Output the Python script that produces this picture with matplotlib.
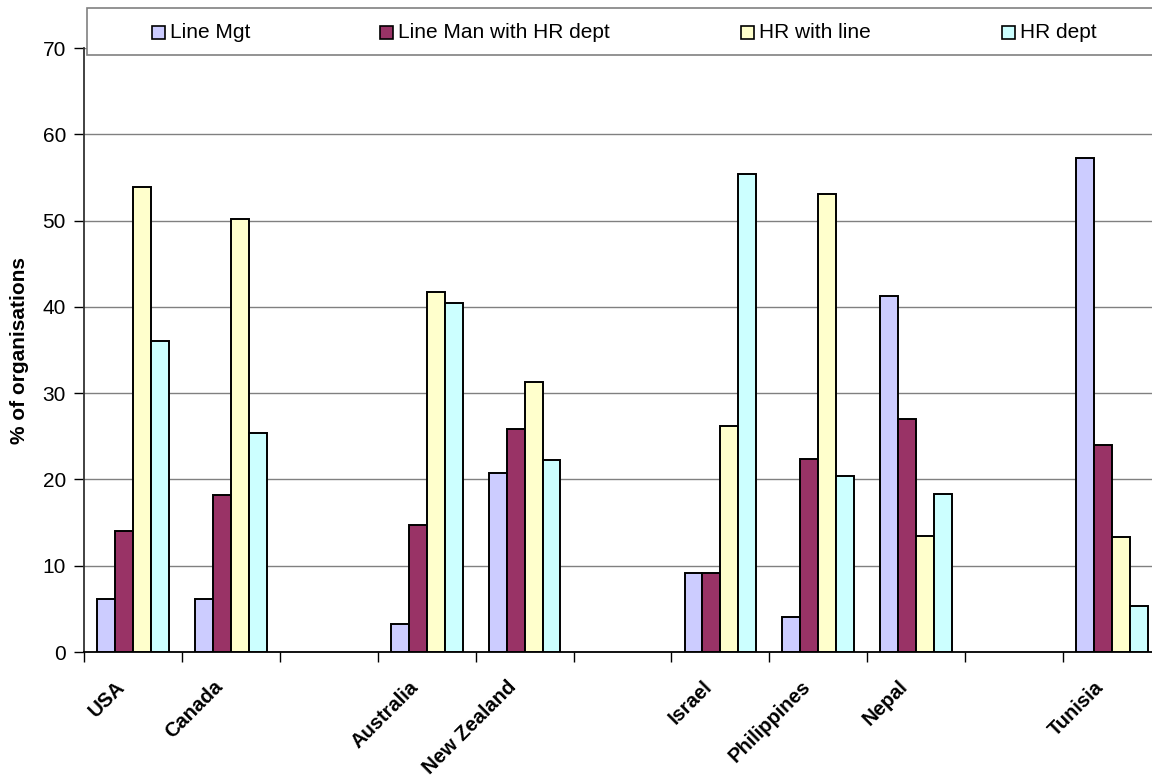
import numpy as np
import matplotlib
matplotlib.use("Agg")
import matplotlib.pyplot as plt
from matplotlib.patches import Rectangle
from matplotlib.transforms import ScaledTranslation

plt.rcParams["font.family"] = ["Liberation Sans", "DejaVu Sans"]

# chart data (blank strings are the empty slots on the axis)
countries = ["USA", "Canada", "", "Australia", "New Zealand", "",
             "Israel", "Philippines", "Nepal", "", "Tunisia"]
line_mgt = [6.1, 6.2, None, 3.2, 20.7, None, 9.1, 4.1, 41.3, None, 57.3]
line_man_hr = [14.0, 18.2, None, 14.7, 25.8, None, 9.1, 22.4, 27.0, None, 24.0]
hr_with_line = [53.9, 50.2, None, 41.7, 31.3, None, 26.2, 53.1, 13.5, None, 13.3]
hr_dept = [36.0, 25.4, None, 40.5, 22.2, None, 55.4, 20.4, 18.3, None, 5.3]

series_names = ["Line Mgt", "Line Man with HR dept", "HR with line", "HR dept"]
series_colors = ["#CCCCFF", "#993366", "#FFFFCC", "#CCFFFF"]
series = [line_mgt, line_man_hr, hr_with_line, hr_dept]
y_ticks = [0, 10, 20, 30, 40, 50, 60, 70]

W, H = 1152, 778
fig = plt.figure(figsize=(W / 100, H / 100), dpi=100)
ax = fig.add_axes([84 / W, 1 - 652 / H, (1161 - 84) / W, (652 - 48) / H])

x = np.arange(len(countries))
bw = 0.183
for i, (vals, col) in enumerate(zip(series, series_colors)):
    idx = [k for k, v in enumerate(vals) if v is not None]
    h = [vals[k] for k in idx]
    ax.bar(x[idx] + (i - 1.5) * bw, h, width=bw, color=col,
           edgecolor="black", linewidth=1.4, zorder=3)

ax.set_xlim(-0.5, len(countries) - 0.5)
ax.set_ylim(0, 70)
ax.set_yticks(y_ticks)
ax.set_yticklabels([str(t) for t in y_ticks], fontsize=15)
ax.yaxis.grid(True, color="#808080", linewidth=1)
ax.set_axisbelow(True)

ax.set_xticks(x)
ax.set_xticklabels(countries, rotation=45, ha="right", va="center",
                   rotation_mode="anchor", fontsize=14.5, fontweight="bold")
ax.tick_params(axis="x", which="major", length=0, pad=23)
shift = ScaledTranslation(-8 / 72, 0, fig.dpi_scale_trans)
for lab in ax.get_xticklabels():
    lab.set_transform(lab.get_transform() + shift)
ax.set_xticks(np.arange(-0.5, len(countries), 1.0), minor=True)
ax.tick_params(axis="x", which="minor", length=7, width=1, color="black",
               direction="out")
ax.tick_params(axis="y", length=7, width=1, direction="out", pad=6)

for s in ["top", "right"]:
    ax.spines[s].set_visible(False)
ax.spines["left"].set_color("#333333")
ax.spines["left"].set_linewidth(1.3)
ax.spines["bottom"].set_color("black")
ax.spines["bottom"].set_linewidth(1.3)

fig.text(20 / W, 1 - 350 / H, "% of organisations", rotation=90,
         ha="center", va="center", fontsize=15, fontweight="bold")

# legend box across the top
fig.patches.append(Rectangle((87 / W, 1 - 55 / H), (1170 - 87) / W, 47 / H,
                             transform=fig.transFigure, facecolor="white",
                             edgecolor="#808080", linewidth=1.2, zorder=5))
marker_x = [152, 380, 741, 1002]
for mx, name, col in zip(marker_x, series_names, series_colors):
    fig.patches.append(Rectangle((mx / W, 1 - 39 / H), 13 / W, 13 / H,
                                 transform=fig.transFigure, facecolor=col,
                                 edgecolor="black", linewidth=1.2, zorder=6))
    fig.text((mx + 18) / W, 1 - 32 / H, name, ha="left", va="center",
             fontsize=15, zorder=7)

fig.savefig("out.png", dpi=100)
